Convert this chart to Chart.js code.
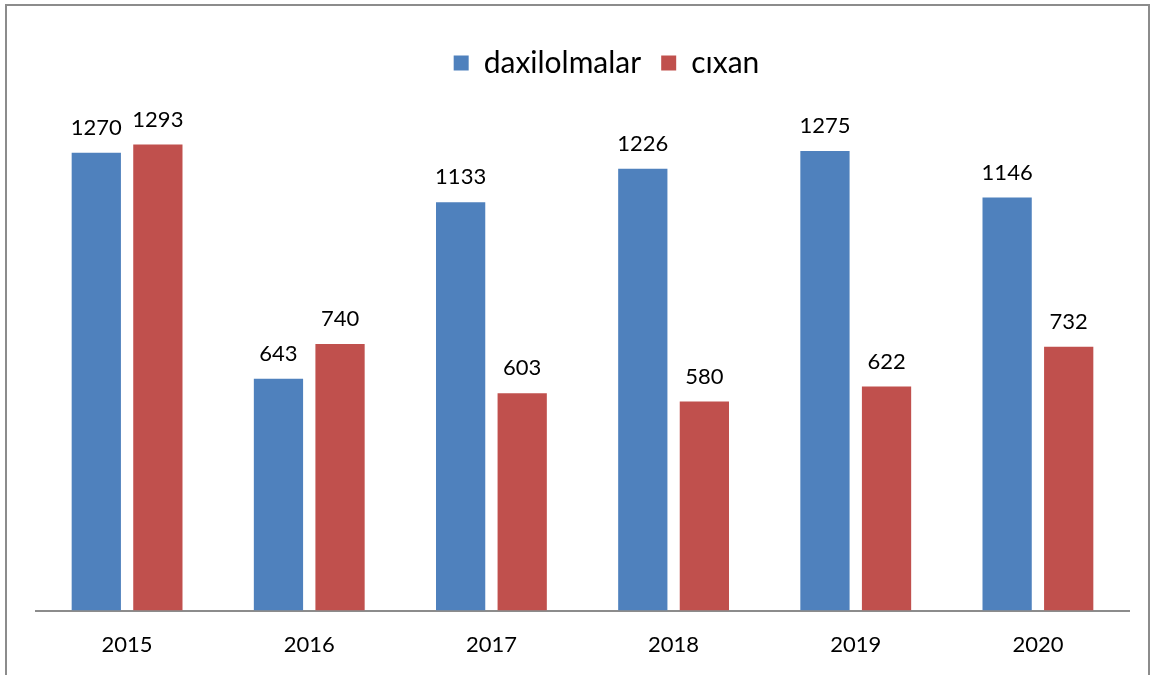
<!DOCTYPE html>
<html>
<head>
<meta charset="utf-8">
<script src="https://cdn.jsdelivr.net/npm/chart.js@4.4.0/dist/chart.umd.min.js"></script>
<style>
    html, body { margin: 0; padding: 0; background: #fff; }
    #frame {
        position: absolute; left: 5px; top: 4px; width: 1141px; height: 700px;
        border: 2px solid #8c8c8c; border-bottom: none;
    }
    #chart { position: absolute; left: 0; top: 0; }
</style>
</head>
<body>
<div id="frame"></div>
<canvas id="chart" width="1158" height="675"></canvas>
<script>
// Chart data
const years = ['2015', '2016', '2017', '2018', '2019', '2020'];
const daxilolmalar = [1270, 643, 1133, 1226, 1275, 1146];
const cixan = [1293, 740, 603, 580, 622, 732];

const FONT = 'Lato, "Open Sans", sans-serif';

// Value labels above every bar
const valueLabels = {
    id: 'valueLabels',
    afterDatasetsDraw(chart) {
        const ctx = chart.ctx;
        ctx.save();
        ctx.font = '22px ' + FONT;
        ctx.fillStyle = '#000';
        ctx.textAlign = 'center';
        ctx.textBaseline = 'bottom';
        chart.data.datasets.forEach((ds, i) => {
            chart.getDatasetMeta(i).data.forEach((bar, j) => {
                ctx.fillText(ds.data[j], bar.x, bar.y - 14);
            });
        });
        ctx.restore();
    }
};

// Extra room under the legend, and nudge it a bit to the right
const legendGap = {
    id: 'legendGap',
    beforeInit(chart) {
        const fit = chart.legend.fit;
        chart.legend.fit = function () {
            fit.bind(chart.legend)();
            this.height += 18;
        };
    },
    afterLayout(chart) {
        chart.legend.left += 24;
        chart.legend.right += 24;
    }
};

new Chart(document.getElementById('chart'), {
    type: 'bar',
    data: {
        labels: years,
        datasets: [{
            label: 'daxilolmalar',
            data: daxilolmalar,
            backgroundColor: '#4F81BD',
            categoryPercentage: 0.676,
            barPercentage: 0.8
        }, {
            label: 'cıxan',
            data: cixan,
            backgroundColor: '#C0504D',
            categoryPercentage: 0.676,
            barPercentage: 0.8
        }]
    },
    options: {
        responsive: false,
        animation: false,
        devicePixelRatio: 1,
        layout: { padding: { left: 36, right: 29, top: 28, bottom: 4 } },
        plugins: {
            legend: {
                position: 'top',
                labels: {
                    font: { family: FONT, size: 30 },
                    color: '#000',
                    boxWidth: 15,
                    boxHeight: 15,
                    padding: 20
                }
            },
            tooltip: { enabled: false }
        },
        scales: {
            x: {
                grid: { display: false },
                border: { color: '#8c8c8c', width: 2 },
                ticks: { font: { family: FONT, size: 22 }, color: '#000', padding: 13 }
            },
            y: {
                display: false,
                min: 0,
                max: 1400
            }
        }
    },
    plugins: [valueLabels, legendGap]
});
</script>
</body>
</html>
